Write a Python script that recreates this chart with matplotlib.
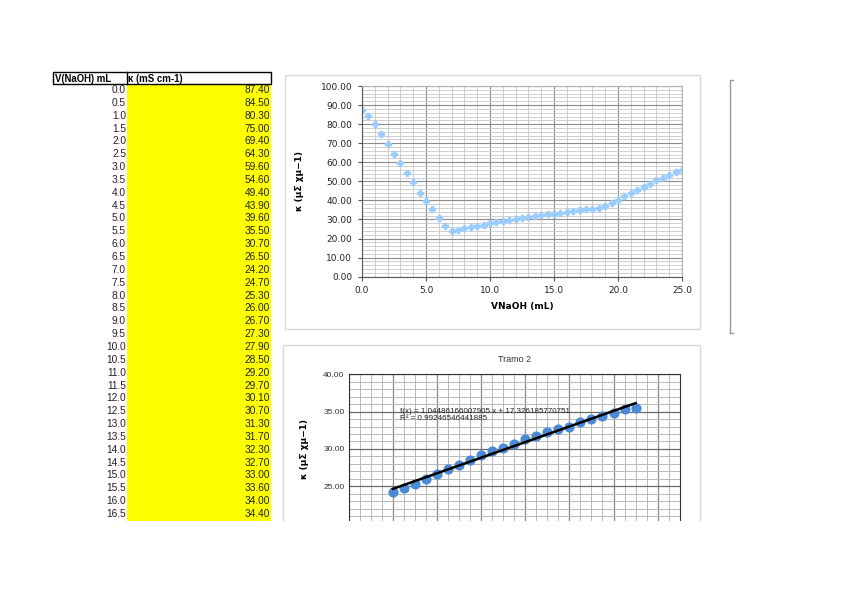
import numpy as np
import matplotlib
matplotlib.use("Agg")
import matplotlib.pyplot as plt
from matplotlib.patches import Rectangle
from matplotlib.ticker import MultipleLocator, FormatStrFormatter

# table data (visible rows)
vol_table = [0.0, 0.5, 1.0, 1.5, 2.0, 2.5, 3.0, 3.5, 4.0, 4.5, 5.0, 5.5, 6.0, 6.5,
             7.0, 7.5, 8.0, 8.5, 9.0, 9.5, 10.0, 10.5, 11.0, 11.5, 12.0, 12.5,
             13.0, 13.5, 14.0, 14.5, 15.0, 15.5, 16.0, 16.5]
kappa_table = [87.4, 84.5, 80.3, 75.0, 69.4, 64.3, 59.6, 54.6, 49.4, 43.9, 39.6,
               35.5, 30.7, 26.5, 24.2, 24.7, 25.3, 26.0, 26.7, 27.3, 27.9, 28.5,
               29.2, 29.7, 30.1, 30.7, 31.3, 31.7, 32.3, 32.7, 33.0, 33.6, 34.0, 34.4]
# rest of the titration
vol_rest = [17.0, 17.5, 18.0, 18.5, 19.0, 19.5, 20.0, 20.5, 21.0, 21.5, 22.0,
            22.5, 23.0, 23.5, 24.0, 24.5, 25.0]
kappa_rest = [34.8, 35.3, 35.5, 36.0, 37.0, 38.6, 40.3, 42.3, 43.8, 45.6, 47.0,
              48.6, 50.5, 51.9, 53.1, 54.7, 56.1]

vol_all = vol_table + vol_rest
kappa_all = kappa_table + kappa_rest

# Tramo 2 = 7.0 .. 18.0 mL
i0, i1 = vol_all.index(7.0), vol_all.index(18.0) + 1
vol_t2 = vol_all[i0:i1]
kappa_t2 = kappa_all[i0:i1]

W, H = 848, 599
fig = plt.figure(figsize=(W / 100, H / 100), dpi=100)

def box(l, t, r, b):
    # pixel box (from top-left) -> figure rect
    return [l / W, 1 - b / H, (r - l) / W, (b - t) / H]

# background layer in pixel coordinates
bg = fig.add_axes([0, 0, 1, 1])
bg.set_xlim(0, W)
bg.set_ylim(H, 0)
bg.axis("off")

# --- spreadsheet table ---
row_h = (514 - 90) / 33
bg.add_patch(Rectangle((127, 84), 144, 437, color="#ffff00", lw=0))
bg.add_patch(Rectangle((53, 72), 218, 12, fill=False, ec="black", lw=1))
bg.plot([126.5, 126.5], [72, 84], color="black", lw=1)
bg.text(55, 78.5, "V(NaOH) mL", fontsize=6.9, fontweight="bold",
        family="Liberation Sans", va="center", ha="left")
bg.text(128, 78.5, "κ (mS cm-1)", fontsize=6.9, fontweight="bold",
        family=["Liberation Sans", "DejaVu Sans"], va="center", ha="left")
for i, (v, k) in enumerate(zip(vol_table, kappa_table)):
    y = 90 + i * row_h
    bg.text(126, y, f"{v:.1f}", fontsize=7.3, family="Liberation Sans",
            va="center", ha="right", color="#222222")
    bg.text(270, y, f"{k:.2f}", fontsize=7.3, family="Liberation Sans",
            va="center", ha="right", color="#222222")

# chart frames
bg.add_patch(Rectangle((285, 75), 415, 254, fill=False, ec="#d8d8d8", lw=1))
bg.add_patch(Rectangle((283, 345), 417, 200, fill=False, ec="#d8d8d8", lw=1))
# partially visible frame on the right
bg.plot([733, 729.5, 729.5, 733], [80, 80, 333, 333], color="#999999", lw=1)

grid_major = "#8c8c8c"
grid_minor = "#c8c8c8"

# --- chart 1 ---
ax1 = fig.add_axes(box(362, 86, 682, 276.7))
ax1.set_xlim(0, 25)
ax1.set_ylim(0, 100)
ax1.xaxis.set_major_locator(MultipleLocator(5))
ax1.xaxis.set_minor_locator(MultipleLocator(1))
ax1.yaxis.set_major_locator(MultipleLocator(10))
ax1.yaxis.set_minor_locator(MultipleLocator(2))
ax1.xaxis.set_major_formatter(FormatStrFormatter("%.1f"))
ax1.yaxis.set_major_formatter(FormatStrFormatter("%.2f"))
ax1.grid(which="major", color=grid_major, lw=0.8)
ax1.grid(which="minor", color=grid_minor, lw=0.6)
ax1.set_axisbelow(True)
for s in ax1.spines.values():
    s.set_color("#b3b3b3")
ax1.spines["left"].set_color("#555555")
ax1.spines["bottom"].set_color("#555555")
ax1.tick_params(which="both", length=0, labelsize=6.5, pad=4, colors="#222222")
ax1.tick_params(which="major", length=3, color="#555555")
ax1.plot(vol_all, kappa_all, ls="none", marker="P", ms=4.6, color="#99ccff",
         mec="#99ccff")
ax1.set_xlabel("VNaOH (mL)", fontsize=6.5, fontweight="bold", labelpad=5)
ax1.set_ylabel("κ (μΣ χμ−1)", fontsize=6.5, fontweight="bold", labelpad=12)

# --- chart 2 (Tramo 2) ---
ax2 = fig.add_axes(box(348.7, 374.3, 679.7, 523.5))
ax2.set_xlim(5, 20)
ax2.set_ylim(20, 40)
ax2.xaxis.set_major_locator(MultipleLocator(2, offset=1))
ax2.xaxis.set_minor_locator(MultipleLocator(0.5))
ax2.yaxis.set_major_locator(MultipleLocator(5))
ax2.yaxis.set_minor_locator(MultipleLocator(1))
ax2.yaxis.set_major_formatter(FormatStrFormatter("%.2f"))
ax2.grid(axis="x", which="major", color="#8a8a8a", lw=0.9)
ax2.grid(axis="y", which="major", color="#6a6a6a", lw=0.9)
ax2.grid(which="minor", color="#b8b8b8", lw=0.7)
ax2.set_axisbelow(True)
for s in ax2.spines.values():
    s.set_color("#333333")
ax2.tick_params(which="both", length=0, labelsize=6.0, colors="#333333", pad=3)
ax2.tick_params(axis="x", labelbottom=False)
for lab in ax2.get_yticklabels():
    lab.set_family("Liberation Sans")
ax2.plot(vol_t2, kappa_t2, ls="none", marker="o", ms=6.3, color="#4a8ad6")
slope, icpt = np.polyfit(vol_t2, kappa_t2, 1)
fit = np.polyval([slope, icpt], vol_t2)
r2 = 1 - np.sum((np.array(kappa_t2) - fit) ** 2) / np.sum(
    (np.array(kappa_t2) - np.mean(kappa_t2)) ** 2)
ax2.plot([vol_t2[0], vol_t2[-1]], [fit[0], fit[-1]], color="black", lw=1.8)
ax2.text(7.33, 34.55, f"f(x) = {slope:.15g} x + {icpt:.15g}\nR² = {r2:.15g}",
         fontsize=5.8, family=["Liberation Sans", "DejaVu Sans"], va="center",
         ha="left", linespacing=0.9, color="#222222")
ax2.set_title("Tramo 2", fontsize=6.5, family="Liberation Sans",
              color="#333333", pad=9)
ax2.set_ylabel("κ (μΣ χμ−1)", fontsize=6.5, fontweight="bold", labelpad=10)

# the sheet is cut off at the bottom
cover = fig.add_axes([0, 0, 1, 1 - 521 / H])
cover.set_facecolor("white")
cover.set_xticks([])
cover.set_yticks([])
for s in cover.spines.values():
    s.set_visible(False)

fig.savefig("out.png", dpi=100, facecolor="white")
